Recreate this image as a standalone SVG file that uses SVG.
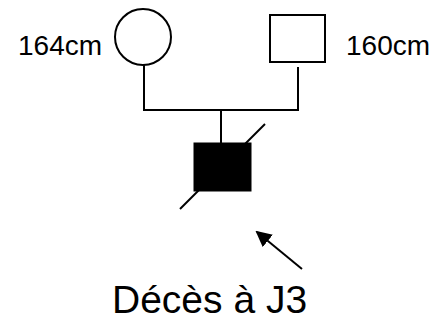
<svg xmlns="http://www.w3.org/2000/svg" width="438" height="323" viewBox="0 0 438 323">
  <style>
    .shape { fill: #fff; stroke: #000; stroke-width: 2; }
    .affected { fill: #000; stroke: #000; stroke-width: 1; }
    .line { fill: none; stroke: #000; stroke-width: 2; }
    .label { font-family: "Liberation Sans", Arial, sans-serif; fill: #000; }
  </style>
  <defs>
    <marker id="arrowhead" markerWidth="8" markerHeight="8" refX="7" refY="4" orient="auto" markerUnits="strokeWidth">
      <path d="M0,0 L8,4 L0,8 Z" fill="#000"/>
    </marker>
  </defs>

  <!-- family connectors -->
  <g id="connectors">
    <polyline class="line" points="144,65 144,110 298,110 298,67"/>
    <line class="line" x1="221" y1="110" x2="221" y2="143"/>
    <line class="line" x1="180" y1="209" x2="265" y2="124"/>
    <line class="line" x1="302" y1="269" x2="257" y2="232" marker-end="url(#arrowhead)"/>
  </g>

  <!-- mother -->
  <g id="mother">
    <circle class="shape" cx="143" cy="37" r="28"/>
    <text class="label" x="18" y="55" font-size="28">164cm</text>
  </g>

  <!-- father -->
  <g id="father">
    <rect class="shape" x="270" y="15" width="55" height="47"/>
    <text class="label" x="346" y="55" font-size="28">160cm</text>
  </g>

  <!-- deceased child -->
  <g id="child">
    <rect class="affected" x="194" y="143" width="57" height="48"/>
  </g>

  <!-- note -->
  <g id="note">
    <text class="label" x="112" y="313" font-size="39">Décès à J3</text>
  </g>
</svg>
